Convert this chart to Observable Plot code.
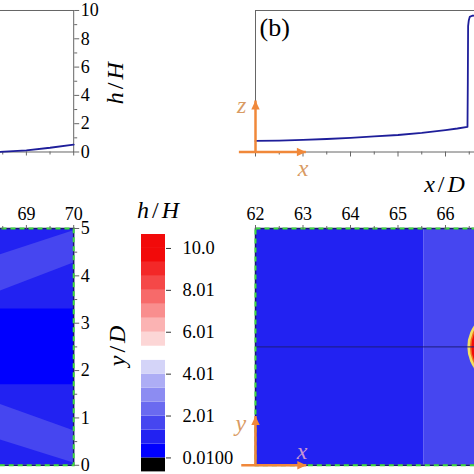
<!DOCTYPE html>
<html><head><meta charset="utf-8">
<script src="https://cdn.jsdelivr.net/npm/d3@7"></script>
<script src="https://cdn.jsdelivr.net/npm/@observablehq/plot@0.6"></script>
<style>
html,body{margin:0;padding:0;background:#fff;}
#fig{position:relative;width:474px;height:474px;overflow:hidden;background:#fff;}
#fig svg{position:absolute;}
</style></head><body><div id="fig"></div>
<script>
// ---------- data ----------
// (a) free-surface profile near the end of the domain
const profileAX = [68.4, 69.0, 69.5, 70.0];
const profileAH = [0.0, 0.12, 0.30, 0.52];
// (b) free-surface profile along the centre line
const profileBX = [62.0, 62.5, 63.0, 63.5, 64.0, 64.5, 65.0, 65.5, 66.0, 66.25, 66.463, 66.47, 66.476, 66.49, 66.51, 66.56, 66.7];
const profileBH = [0.78, 0.81, 0.85, 0.92, 1.0, 1.1, 1.2, 1.35, 1.55, 1.66, 1.77, 5.0, 8.9, 9.3, 9.55, 9.63, 9.65];
// contour levels and colours of h/H
const levels = [0.01, 0.676, 1.342, 2.008, 2.674, 3.34, 4.006, 4.672, 5.338, 6.004, 6.67, 7.336, 8.002, 8.668, 9.334, 10.0];
const levelColors = ["#000000", "#0000ff", "#2222f2", "#4646f0", "#6a6af0", "#8c8cf2", "#adadf5", "#d4d4f8", "#ffffff",
  "#fcd6d6", "#fbb3b3", "#f98e8e", "#f76a6a", "#f54848", "#f32828", "#f20a0a", "#f20a0a"];
const colorbarEdges = [-0.656, ...levels, 10.666];
const colorbarTicks = [0.01, 2.008, 4.006, 6.004, 8.002, 10.0];
const colorbarTickLabels = ["0.0100", "2.01", "4.01", "6.01", "8.01", "10.0"];
// bottom-left contour field (band boundaries at x = 68.4 and 70)
const fieldCX = [68.4, 70.0];
const fieldCBands = [
  {h: 1.0, y1: [0, 0], y2: [5, 5]},
  {h: 1.7, y1: [3.66, 4.27], y2: [4.43, 4.95]},
  {h: 1.7, y1: [0.55, 0.05], y2: [1.3, 0.73]},
  {h: 0.3, y1: [1.7, 1.7], y2: [3.3, 3.3]}
];
// bottom-right contour field
const fieldDX = [62.0, 65.55, 67.5];
const fieldDH = [1.0, 1.7];
const fieldDY = [0, 5];
const mound = {x: 67.25, y: 2.5, r: 0.79, h: 9.65};
const centerline = [2.5];
// ticks
const ticksA_y = [0, 2, 4, 6, 8, 10];
const ticksA_yMinor = [1, 3, 5, 7, 9];
const ticksA_x = [69, 70];
const ticksA_xMinor = [68.5, 69.5];
const ticksB_x = [62, 63, 64, 65, 66, 67];
const ticksB_xMinor = [62.5, 63.5, 64.5, 65.5, 66.5];
const ticksC_x = [69, 70];
const ticksC_xMinor = [68.5, 69.5];
const ticksC_y = [0, 1, 2, 3, 4, 5];
const ticksC_yMinor = [0.5, 1.5, 2.5, 3.5, 4.5];
const ticksD_x = [62, 63, 64, 65, 66, 67];
const ticksD_xMinor = [62.5, 63.5, 64.5, 65.5, 66.5, 67.5];
// coordinate-system indicator arrows (annotations)
const arrowsB = [{x1: 62, y1: 0, x2: 62, y2: 3.64, dir: "up"}, {x1: 61.65, y1: 0, x2: 63.06, y2: 0, dir: "right"}];
const arrowLabelsB = [{x: 61.71, y: 3.29, t: "z"}, {x: 63.0, y: -1.17, t: "x"}];
const arrowsD = [{x1: 62, y1: 0, x2: 62, y2: 1.04, dir: "up"}, {x1: 61.7, y1: 0, x2: 63.07, y2: 0, dir: "right"}];
const arrowLabelsD = [{x: 61.69, y: 0.89, t: "y", c: "#d99b63"}, {x: 62.98, y: 0.3, t: "x", c: "#c896d2"}];

// ---------- helpers ----------
const fig = document.getElementById("fig");
const FONT = "Liberation Serif";
const baseStyle = {background: "transparent", maxWidth: "none", overflow: "visible", fontSize: "18px", color: "black"};
const colorScale = {type: "threshold", domain: levels, range: levelColors};
const ORANGE = "#f0883a";
const TAN = "#d99b63";
const GRAY = "#666";
const LINE = "#1e1e9a";
const fmt = d => String(d);
const triUp = {draw(ctx) { ctx.moveTo(0, 0); ctx.lineTo(-4.2, 9); ctx.lineTo(4.2, 9); ctx.closePath(); }};
const triRight = {draw(ctx) { ctx.moveTo(0, 0); ctx.lineTo(-9, -4.2); ctx.lineTo(-9, 4.2); ctx.closePath(); }};
const labelOpts = {text: d => d, textAnchor: "middle", lineAnchor: "middle", fontSize: 24};

function mathify(svg) {
  const ns = "http://www.w3.org/2000/svg";
  svg.setAttribute("font-family", FONT);
  svg.style.setProperty("font-family", FONT, "important");
  svg.querySelectorAll("g").forEach(g => g.removeAttribute("font-family"));
  svg.querySelectorAll("text").forEach(t => {
    t.setAttribute("font-family", FONT);
    t.style.setProperty("font-family", FONT, "important");
    const m = /^([a-z])\/([A-Z])$/.exec(t.textContent);
    if (!m) return;
    while (t.firstChild) t.removeChild(t.firstChild);
    const a = document.createElementNS(ns, "tspan"); a.setAttribute("font-style", "italic"); a.textContent = m[1];
    const b = document.createElementNS(ns, "tspan"); b.setAttribute("dx", "3"); b.textContent = "/";
    const c = document.createElementNS(ns, "tspan"); c.setAttribute("dx", "3"); c.setAttribute("font-style", "italic"); c.textContent = m[2];
    t.append(a, b, c);
  });
}
function place(svg, left, top) {
  svg.style.position = "absolute";
  svg.style.left = left + "px";
  svg.style.top = top + "px";
  mathify(svg);
  fig.appendChild(svg);
}
function arrowMarks(arrows, labels, labelColor) {
  return [
    Plot.link(arrows, {x1: "x1", y1: "y1", x2: "x2", y2: "y2", stroke: ORANGE, strokeWidth: 2.5}),
    Plot.dot(arrows.filter(d => d.dir === "up"), {x: "x2", y: "y2", symbol: triUp, r: 5, fill: ORANGE}),
    Plot.dot(arrows.filter(d => d.dir === "right"), {x: "x2", y: "y2", symbol: triRight, r: 5, fill: ORANGE}),
    Plot.text(labels, {x: "x", y: "y", text: "t", fill: labelColor || (d => d.c), fontSize: 24, fontStyle: "italic"})
  ];
}

// ---------- panel (a) ----------
const pxA = 47.3, frameRightA = 72.8;
const rowsA = profileAX.map((x, i) => ({x, h: profileAH[i]}));
const svgA = Plot.plot({
  width: 4 * pxA + 60, height: 10 + 141.5 + 30,
  marginLeft: 0, marginRight: 60, marginTop: 10, marginBottom: 30,
  x: {domain: [66, 70]}, y: {domain: [0, 10]},
  style: baseStyle,
  marks: [
    Plot.frame({stroke: GRAY}),
    Plot.axisY({anchor: "right", ticks: ticksA_y, tickFormat: fmt, tickSize: 5, tickPadding: 2, stroke: GRAY, label: null}),
    Plot.axisY({anchor: "right", ticks: ticksA_yMinor, tickSize: 3, tickFormat: () => "", stroke: GRAY, label: null}),
    Plot.axisX({anchor: "bottom", ticks: ticksA_x, tickSize: 4, tickFormat: () => "", stroke: GRAY, label: null}),
    Plot.axisX({anchor: "bottom", ticks: ticksA_xMinor, tickSize: 3, tickFormat: () => "", stroke: GRAY, label: null}),
    Plot.line(rowsA, {x: "x", y: "h", stroke: LINE, strokeWidth: 1.8}),
    Plot.text(["h/H"], {...labelOpts, frameAnchor: "right", dx: 42, dy: 2, rotate: -90})
  ]
});
place(svgA, frameRightA - 4 * pxA, 0);

// ---------- panel (b) ----------
const pxB = 47.5, frameLeftB = 254.7;
const rowsB = profileBX.map((x, i) => ({x, h: profileBH[i]}));
const svgB = Plot.plot({
  width: 30 + 5 * pxB + 10, height: 10 + 141.5 + 45,
  marginLeft: 30, marginRight: 10, marginTop: 10, marginBottom: 45,
  x: {domain: [62, 67]}, y: {domain: [0, 10]},
  style: baseStyle,
  marks: [
    Plot.frame({stroke: GRAY}),
    Plot.axisX({anchor: "bottom", ticks: ticksB_x, tickSize: 5, tickFormat: () => "", stroke: GRAY, label: null}),
    Plot.axisX({anchor: "bottom", ticks: ticksB_xMinor, tickSize: 3, tickFormat: () => "", stroke: GRAY, label: null}),
    Plot.axisY({ticks: [], label: null}),
    Plot.line(rowsB, {x: "x", y: "h", stroke: LINE, strokeWidth: 1.8}),
    ...arrowMarks(arrowsB, arrowLabelsB, TAN),
    Plot.text(["(b)"], {...labelOpts, frameAnchor: "top-left", dx: 4, dy: 17, textAnchor: "start", fontSize: 26}),
    Plot.text(["x/D"], {...labelOpts, frameAnchor: "bottom-left", dx: 189, dy: 32})
  ]
});
place(svgB, frameLeftB - 30, 0);

// ---------- panel (c) bottom-left contour ----------
const pxC = 47.3, frameRightC = 72.7;
const bandRowsC = fieldCBands.map(b => fieldCX.map((x, j) => ({x, y1: b.y1[j], y2: b.y2[j], h: b.h})));
const svgC = Plot.plot({
  width: 4 * pxC + 60, height: 40 + 236.8 + 10,
  marginLeft: 0, marginRight: 60, marginTop: 40, marginBottom: 10,
  x: {domain: [66, 70]}, y: {domain: [0, 5]},
  color: colorScale,
  style: baseStyle,
  marks: [
    ...bandRowsC.map(rows => Plot.areaY(rows, {x: "x", y1: "y1", y2: "y2", fill: "h"})),
    Plot.frame({stroke: "#1a1a6e", strokeWidth: 1.5}),
    Plot.frame({stroke: "#3fdc3f", strokeWidth: 2, strokeDasharray: "5,4"}),
    Plot.axisX({anchor: "top", ticks: ticksC_x, tickFormat: fmt, tickSize: 4, tickPadding: 4, stroke: GRAY, label: null}),
    Plot.axisX({anchor: "top", ticks: ticksC_xMinor, tickSize: 3, tickFormat: () => "", stroke: GRAY, label: null}),
    Plot.axisY({anchor: "right", ticks: ticksC_y, tickFormat: fmt, tickSize: 5, tickPadding: 2, stroke: GRAY, label: null}),
    Plot.axisY({anchor: "right", ticks: ticksC_yMinor, tickSize: 3, tickFormat: () => "", stroke: GRAY, label: null}),
    Plot.text(["y/D"], {...labelOpts, frameAnchor: "right", dx: 44, dy: -1, rotate: -90})
  ]
});
place(svgC, frameRightC - 4 * pxC, 227.5 - 40);

// ---------- panel (d) bottom-right contour ----------
const pxD = 47.5, frameLeftD = 254.7;
const rectRowsD = fieldDH.map((h, i) => ({x1: fieldDX[i], x2: fieldDX[i + 1], y1: fieldDY[0], y2: fieldDY[1], h}));
const svgD = Plot.plot({
  width: 30 + 5.5 * pxD + 10, height: 40 + 236.8 + 10,
  marginLeft: 30, marginRight: 10, marginTop: 40, marginBottom: 10,
  x: {domain: [62, 67.5]}, y: {domain: [0, 5]},
  color: colorScale,
  style: baseStyle,
  marks: [
    Plot.rect(rectRowsD, {x1: "x1", x2: "x2", y1: "y1", y2: "y2", fill: "h"}),
    Plot.dot([mound], {x: "x", y: "y", r: mound.r * pxD, fill: "#f5e060", stroke: "none"}),
    Plot.dot([mound], {x: "x", y: "y", r: mound.r * pxD - 2.5, fill: "#f07020", stroke: "none"}),
    Plot.dot([mound], {x: "x", y: "y", r: mound.r * pxD - 4, fill: "h", stroke: "none"}),
    Plot.ruleY(centerline, {stroke: "#1c1c7a", strokeWidth: 1}),
    Plot.frame({stroke: "#1a1a6e", strokeWidth: 1.5}),
    Plot.frame({stroke: "#3fdc3f", strokeWidth: 2, strokeDasharray: "5,4"}),
    Plot.axisX({anchor: "top", ticks: ticksD_x, tickFormat: fmt, tickSize: 4, tickPadding: 4, stroke: GRAY, label: null}),
    Plot.axisX({anchor: "top", ticks: ticksD_xMinor, tickSize: 3, tickFormat: () => "", stroke: GRAY, label: null}),
    Plot.axisY({ticks: [], label: null}),
    ...arrowMarks(arrowsD, arrowLabelsD, null)
  ]
});
place(svgD, frameLeftD - 30, 227.5 - 40);

// ---------- colour bar ----------
const barRows = colorbarEdges.slice(0, -1).map((lo, i) => ({lo, hi: colorbarEdges[i + 1], mid: (lo + colorbarEdges[i + 1]) / 2}));
const svgE = Plot.plot({
  width: 5 + 24 + 70, height: 30 + 237.4 + 2,
  marginLeft: 5, marginRight: 70, marginTop: 30, marginBottom: 2,
  x: {domain: [0, 1], axis: null},
  y: {domain: [colorbarEdges[0], colorbarEdges[colorbarEdges.length - 1]]},
  color: colorScale,
  style: baseStyle,
  marks: [
    Plot.rect(barRows, {x1: 0, x2: 1, y1: "lo", y2: "hi", fill: "mid"}),
    Plot.axisY({anchor: "right", ticks: colorbarTicks, tickFormat: d => colorbarTickLabels[colorbarTicks.indexOf(d)],
      tickSize: 5, tickPadding: 12, stroke: "#333", fontSize: 18.5, label: null}),
    Plot.text(["h/H"], {...labelOpts, frameAnchor: "top", dx: 4.5, dy: -24})
  ]
});
place(svgE, 141 - 5, 234.3 - 30);
</script></body></html>
